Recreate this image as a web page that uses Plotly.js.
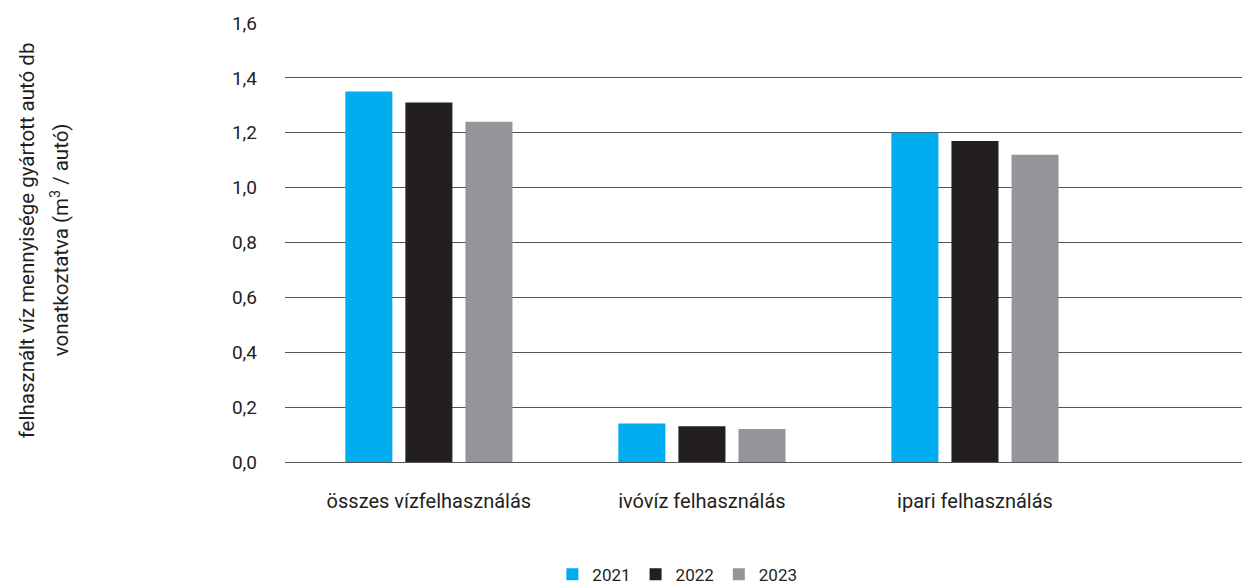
<!DOCTYPE html>
<html><head><meta charset="utf-8">
<script src="https://cdn.plot.ly/plotly-3.0.1.min.js"></script>
<style>html,body{margin:0;padding:0;background:#fff}#chart{width:1242px;height:587px}</style>
</head><body><div id="chart"></div>
<script>
const categories = ['összes vízfelhasználás', 'ivóvíz felhasználás', 'ipari felhasználás'];
const years = ['2021', '2022', '2023'];
const values2021 = [1.35, 0.14, 1.20];
const values2022 = [1.31, 0.13, 1.17];
const values2023 = [1.24, 0.12, 1.12];
const colors = ['#00AEEF', '#231F20', '#939598'];
const yTicks = [0, 0.2, 0.4, 0.6, 0.8, 1.0, 1.2, 1.4, 1.6];
const yTitleLines = ['felhasznált víz mennyisége gyártott autó db', 'vonatkoztatva (m<sup>3</sup> / autó)'];

const series = [values2021, values2022, values2023];
const traces = series.map((v, i) => ({
  type: 'bar', x: categories, y: v, name: years[i],
  marker: {color: colors[i], line: {width: 0}},
  hoverinfo: 'skip'
}));

const FONT = 'Roboto, "DejaVu Sans", sans-serif';
const layout = {
  width: 1242, height: 587,
  margin: {l: 285, r: 0, t: 23, b: 125, autoexpand: false},
  paper_bgcolor: '#fff', plot_bgcolor: '#fff',
  font: {family: FONT, size: 19, color: '#231F20'},
  separators: ',.',
  barmode: 'group', bargap: 0.34, bargroupgap: 0.217,
  showlegend: true,
  legend: {orientation: 'h', x: 0.41, xanchor: 'center', y: -0.257, yanchor: 'middle',
           font: {size: 17, color: '#231F20'}, itemwidth: 30, traceorder: 'normal'},
  xaxis: {type: 'category', range: [-0.527, 2.978], showgrid: false, zeroline: false,
          showline: false, ticks: '', ticklabelstandoff: 25, tickfont: {size: 20}, fixedrange: true},
  yaxis: {range: [0, 1.6], tickvals: yTicks, tickformat: '.1f', showgrid: true,
          gridcolor: '#555555', gridwidth: 1, zeroline: true, zerolinecolor: '#555555', zerolinewidth: 1,
          showline: false, ticks: '', ticklabelstandoff: 27, tickfont: {size: 19},
          automargin: false, fixedrange: true},
  annotations: [
    {text: yTitleLines[0], textangle: -90, xref: 'paper', yref: 'paper', x: (27 - 285) / 957, y: 0.505,
     xanchor: 'center', yanchor: 'middle', showarrow: false, font: {size: 20.5, color: '#231F20'}},
    {text: yTitleLines[1], textangle: -90, xref: 'paper', yref: 'paper', x: (60 - 285) / 957, y: 0.505,
     xanchor: 'center', yanchor: 'middle', showarrow: false, font: {size: 20.5, color: '#231F20'}}
  ]
};
Plotly.newPlot('chart', traces, layout, {displayModeBar: false, staticPlot: true});
</script></body></html>
